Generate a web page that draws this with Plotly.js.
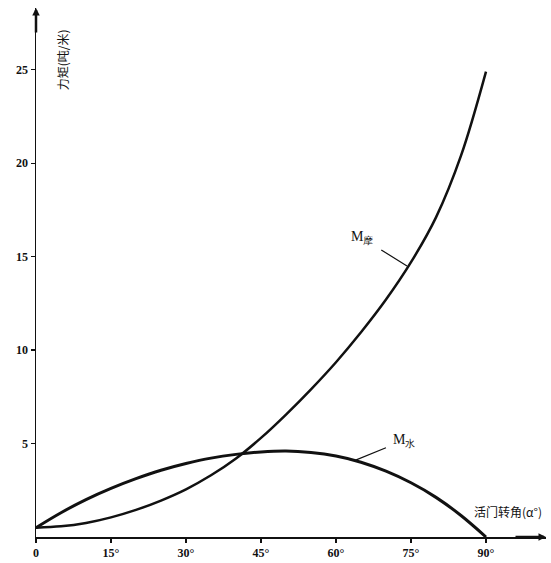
<!DOCTYPE html>
<html>
<head>
<meta charset="utf-8">
<script src="https://cdn.plot.ly/plotly-3.0.1.min.js"></script>
<style>html,body{margin:0;padding:0;background:#fff;}#chart{width:551px;height:563px;}</style>
</head>
<body>
<div id="chart"></div>
<script>
// Valve opening angle (degrees)
const angles = [0, 5, 10, 15, 20, 25, 30, 35, 40, 45, 50, 55, 60, 65, 70, 75, 80, 85, 90];
// Friction moment M摩 (t·m)
const mFriction = [0.5, 0.57, 0.75, 1.05, 1.45, 1.95, 2.55, 3.3, 4.2, 5.3, 6.55, 7.9, 9.35, 10.95, 12.7, 14.7, 17.1, 20.4, 24.9];
// Hydraulic moment M水 (t·m)
const mWater = [0.5, 1.3, 2.0, 2.6, 3.12, 3.57, 3.93, 4.22, 4.42, 4.55, 4.6, 4.52, 4.33, 4.0, 3.52, 2.9, 2.12, 1.15, 0];

const xTickVals = [0, 15, 30, 45, 60, 75, 90];
const xTickText = ['0', '15°', '30°', '45°', '60°', '75°', '90°'];
const yTickVals = [5, 10, 15, 20, 25];
const yTickText = ['5', '10', '15', '20', '25'];

const xTitle = '活门转角(α°)';
const yTitle = '力矩(吨/米)';
const labelFriction = 'M<sub>摩</sub>';
const labelWater = 'M<sub>水</sub>';

const traces = [
  {x: angles, y: mFriction, mode: 'lines', line: {color: '#111', width: 2.5, shape: 'spline', smoothing: 1}, hoverinfo: 'skip', name: 'M摩'},
  {x: angles, y: mWater, mode: 'lines', line: {color: '#111', width: 3, shape: 'spline', smoothing: 1}, hoverinfo: 'skip', name: 'M水'}
];

const tickFont = {family: 'Liberation Serif, DejaVu Serif, serif', size: 12, color: '#111', weight: 'bold'};

const layout = {
  width: 551, height: 563,
  margin: {l: 36, r: 5, t: 8, b: 26},
  paper_bgcolor: '#fff', plot_bgcolor: '#fff',
  showlegend: false,
  xaxis: {
    range: [0, 102], showgrid: false, zeroline: false,
    showline: true, linecolor: '#111', linewidth: 1.5,
    ticks: 'outside', ticklen: 4, tickwidth: 1.2, tickcolor: '#111',
    tickvals: xTickVals, ticktext: xTickText, tickfont: tickFont
  },
  yaxis: {
    range: [0, 28.3], showgrid: false, zeroline: false,
    showline: true, linecolor: '#111', linewidth: 1.5,
    ticks: 'outside', ticklen: 4, tickwidth: 1.2, tickcolor: '#111',
    tickvals: yTickVals, ticktext: yTickText, tickfont: tickFont
  },
  annotations: [
    {x: 87.2, y: 1.34, xref: 'x', yref: 'y', text: xTitle, showarrow: false, xanchor: 'left', yanchor: 'middle',
     font: {family: 'Noto Sans CJK SC', size: 12, color: '#111'}},
    {x: 5.2, y: 25.5, xref: 'x', yref: 'y', text: yTitle, showarrow: false, textangle: -90,
     font: {family: 'Noto Sans CJK SC', size: 12, color: '#111'}},
    {x: 74.2, y: 14.5, xref: 'x', yref: 'y', text: labelFriction, showarrow: true, arrowhead: 0, arrowwidth: 1.2,
     arrowcolor: '#111', ax: -45, ay: -28, startstandoff: 8,
     font: {family: 'Liberation Serif, serif', size: 14, color: '#111'}},
    {x: 63.8, y: 4.1, xref: 'x', yref: 'y', text: labelWater, showarrow: true, arrowhead: 0, arrowwidth: 1.2,
     arrowcolor: '#111', ax: 49, ay: -20, startstandoff: 6,
     font: {family: 'Liberation Serif, serif', size: 14, color: '#111'}},
    {x: 0, y: 28.3, xref: 'x', yref: 'y', text: '', showarrow: true, arrowhead: 2, arrowsize: 0.6, arrowwidth: 2.5,
     arrowcolor: '#111', ax: 0, ay: 26},
    {x: 102, y: 0, xref: 'x', yref: 'y', text: '', showarrow: true, arrowhead: 2, arrowsize: 0.6, arrowwidth: 2.5,
     arrowcolor: '#111', ax: -32, ay: 0}
  ]
};

Plotly.newPlot('chart', traces, layout, {displayModeBar: false, staticPlot: true});
</script>
</body>
</html>
